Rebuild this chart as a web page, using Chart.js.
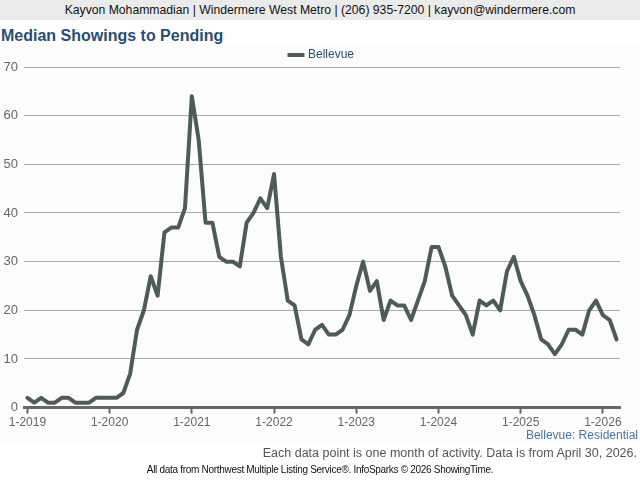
<!DOCTYPE html>
<html>
<head>
<meta charset="utf-8">
<script src="https://cdn.jsdelivr.net/npm/chart.js@4/dist/chart.umd.min.js"></script>
<style>
  html, body { margin: 0; padding: 0; background: #fff; }
  body { width: 640px; height: 480px; position: relative; overflow: hidden; font-family: "Liberation Sans", Arial, sans-serif; }
  #hdr { position: absolute; left: 0; top: 0; width: 640px; height: 20px; background: #ebebeb; color: #111; font-size: 12.2px; line-height: 21px; text-align: center; }
  #title { position: absolute; left: 1px; top: 27px; font-size: 16px; font-weight: bold; color: #2b4d72; }
  #panel { position: absolute; left: 0; top: 44px; width: 640px; height: 400px; background: #fcfcfc; }
  #wrap { position: absolute; left: 0; top: 39px; width: 640px; height: 393px; }
  #area { position: absolute; right: 2px; top: 428px; font-size: 12px; color: #4a73a6; }
  #note { position: absolute; right: 3px; top: 446px; font-size: 12.5px; color: #555; }
  #src { position: absolute; left: 0; width: 640px; top: 464px; font-size: 10px; color: #111; text-align: center; letter-spacing: -0.3px; }
</style>
</head>
<body>
<div id="hdr">Kayvon Mohammadian | Windermere West Metro | (206) 935-7200 | kayvon@windermere.com</div>
<div id="panel"></div>
<div id="title">Median Showings to Pending</div>
<div id="wrap"><canvas id="c" width="640" height="393"></canvas></div>
<div id="area">Bellevue: Residential</div>
<div id="note">Each data point is one month of activity. Data is from April 30, 2026.</div>
<div id="src">All data from Northwest Multiple Listing Service®. InfoSparks © 2026 ShowingTime.</div>
<script>
const years = [2019, 2020, 2021, 2022, 2023, 2024, 2025, 2026];
const seriesName = "Bellevue";
const bellevue = [
  2, 1, 2, 1, 1, 2, 2, 1, 1, 1, 2, 2,
  2, 2, 3, 7, 16, 20, 27, 23, 36, 37, 37, 41,
  64, 55, 38, 38, 31, 30, 30, 29, 38, 40, 43, 41,
  48, 31, 22, 21, 14, 13, 16, 17, 15, 15, 16, 19,
  25, 30, 24, 26, 18, 22, 21, 21, 18, 22, 26, 33,
  33, 29, 23, 21, 19, 15, 22, 21, 22, 20, 28, 31,
  26, 23, 19, 14, 13, 11, 13, 16, 16, 15, 20, 22,
  19, 18, 14
];
const yTicks = [0, 10, 20, 30, 40, 50, 60, 70];

const months = [];
for (const y of years) {
  for (let m = 1; m <= 12; m++) {
    if (months.length < bellevue.length) months.push(m + "-" + y);
  }
}

Chart.defaults.font.family = '"Liberation Sans", Arial, sans-serif';
Chart.defaults.color = '#666';

const legendShift = {
  id: 'legendShift',
  afterLayout(chart) {
    const lg = chart.legend;
    if (lg && !lg._shifted) {
      const orig = lg.draw.bind(lg);
      lg.draw = function () {
        const ctx = chart.ctx;
        ctx.save();
        ctx.translate(12, 4);
        orig();
        ctx.restore();
      };
      lg._shifted = true;
    }
  }
};

new Chart(document.getElementById('c'), {
  type: 'line',
  data: {
    labels: months,
    datasets: [{
      label: seriesName,
      data: bellevue,
      borderColor: '#4f5b59',
      backgroundColor: '#4f5b59',
      borderWidth: 4,
      pointRadius: 0,
      tension: 0,
      borderJoinStyle: 'round',
      borderCapStyle: 'round'
    }]
  },
  plugins: [legendShift],
  options: {
    responsive: false,
    animation: false,
    layout: { padding: { left: 0, right: 20, top: 0, bottom: 0 } },
    plugins: {
      legend: {
        display: true,
        position: 'top',
        labels: {
          usePointStyle: true,
          pointStyle: 'line',
          boxWidth: 18,
          color: '#2b4d72',
          font: { size: 12 },
          padding: 6
        }
      },
      tooltip: { enabled: false }
    },
    scales: {
      x: {
        offset: true,
        grid: {
          offset: false,
          drawOnChartArea: false,
          drawTicks: true,
          tickLength: 6,
          tickWidth: 2,
          color: (ctx) => (ctx.index % 12 === 0 ? '#666' : 'rgba(0,0,0,0)')
        },
        border: { display: true, color: '#666', width: 3 },
        ticks: {
          autoSkip: false,
          maxRotation: 0,
          minRotation: 0,
          color: '#666',
          font: { size: 12 },
          padding: 2,
          callback: function (val, idx) { return idx % 12 === 0 ? months[idx] : ''; }
        }
      },
      y: {
        min: 0,
        max: 70,
        afterBuildTicks: (axis) => { axis.ticks = yTicks.map(v => ({ value: v })); },
        afterFit: (axis) => { axis.width = 24; },
        grid: { color: '#aaa', lineWidth: 1, drawTicks: false },
        border: { display: false },
        ticks: { color: '#666', font: { size: 13 }, padding: 6 }
      }
    }
  }
});
</script>
</body>
</html>
